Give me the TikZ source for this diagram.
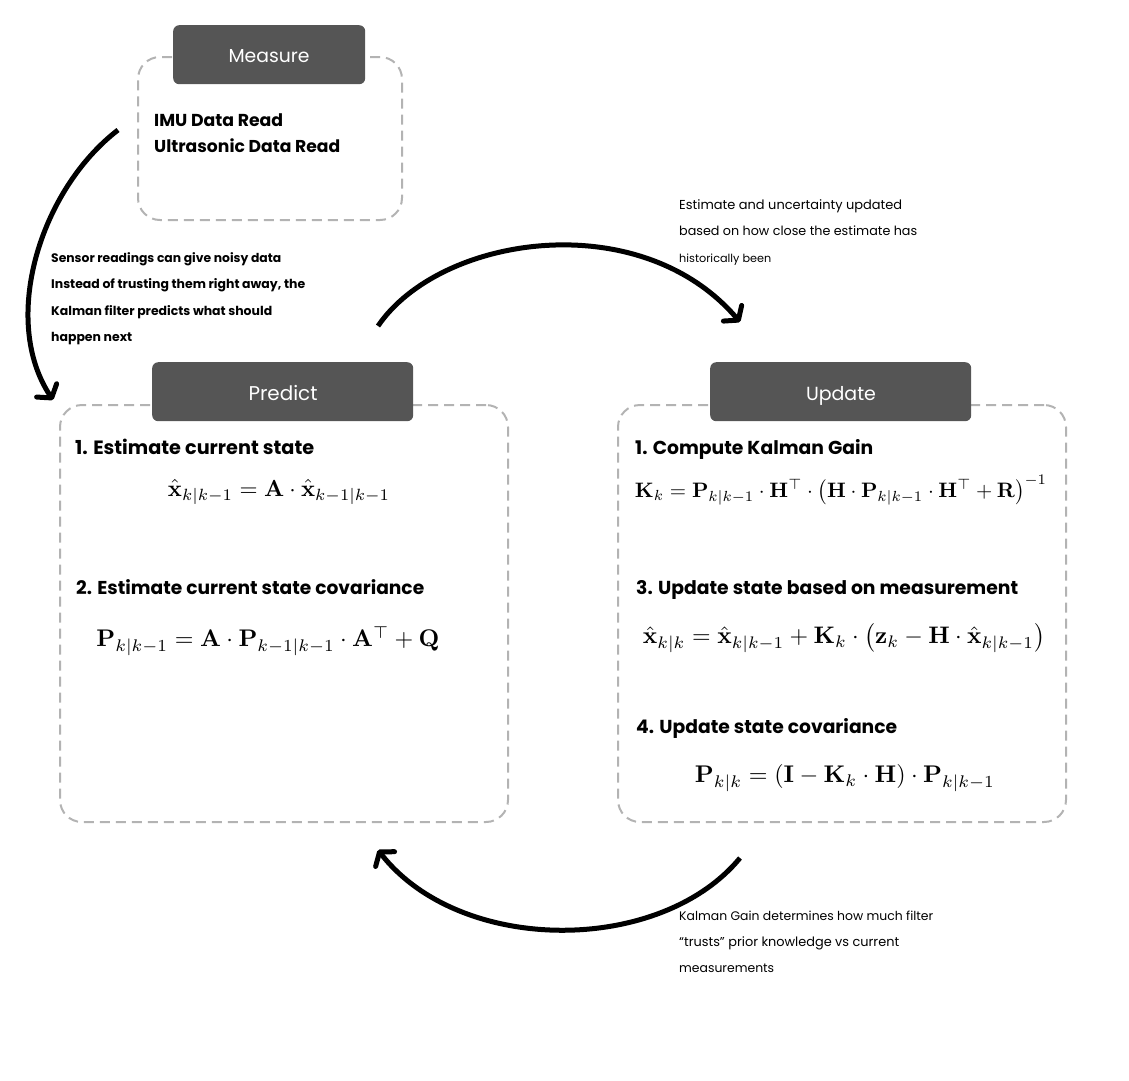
\documentclass[tikz,border=0pt]{standalone}
\usepackage{amsmath}
\usepackage[no-math]{fontspec}
\setmainfont{Poppins}
\usepackage{graphicx}
\usetikzlibrary{arrows.meta}
\definecolor{hdr}{HTML}{555555}
\definecolor{dashc}{HTML}{B3B3B3}
\newcommand{\fitw}[2]{\resizebox{#1pt}{!}{#2}}
\begin{document}
\begin{tikzpicture}[x=1pt,y=-1pt,
  dbox/.style={draw=dashc, line width=2pt, dash pattern=on 10pt off 6pt, rounded corners=22pt, inner sep=0pt, anchor=north west},
  hbox/.style={fill=hdr, rounded corners=6pt, inner sep=0pt, anchor=north west},
  htext/.style={text=white, inner sep=0pt, anchor=base},
  lbl/.style={inner sep=0pt, anchor=base west, text=black},
  eq/.style={inner sep=0pt, anchor=center},
  flow/.style={line width=5pt, line join=round, -{Straight Barb[length=9pt,width=24pt,round]}}]
\useasboundingbox (0,0) rectangle (1129,1080);

% Measure
\node[dbox, minimum width=264pt, minimum height=163pt] (measbox) at (137,56) {};
\node[hbox, minimum width=192pt, minimum height=59pt] (meashdr) at (173,25) {};
\node[htext] (meast) at (269,62) {\fitw{81}{Measure}};
\node[lbl] (imu) at (154,126) {\fitw{129}{\bfseries IMU Data Read}};
\node[lbl] (ultra) at (154,152) {\fitw{186}{\bfseries Ultrasonic Data Read}};

% Predict
\node[dbox, minimum width=448pt, minimum height=417pt] (predbox) at (59,404) {};
\node[hbox, minimum width=261pt, minimum height=59pt] (predhdr) at (152,362) {};
\node[htext] (predt) at (283,400) {\fitw{69}{Predict}};
\node[lbl] (p1) at (75,454) {\fitw{239}{\bfseries 1. Estimate current state}};
\node[eq] (pe1) at (279,492) {\fitw{222}{$\hat{\mathbf{x}}_{k|k-1} = \mathbf{A}\cdot\hat{\mathbf{x}}_{k-1|k-1}$}};
\node[lbl] (p2) at (76,594) {\fitw{348}{\bfseries 2. Estimate current state covariance}};
\node[eq] (pe2) at (268,641) {\fitw{343}{$\mathbf{P}_{k|k-1} = \mathbf{A}\cdot\mathbf{P}_{k-1|k-1}\cdot\mathbf{A}^{\top} + \mathbf{Q}$}};

% Update
\node[dbox, minimum width=448pt, minimum height=417pt] (updbox) at (617,404) {};
\node[hbox, minimum width=261pt, minimum height=59pt] (updhdr) at (710,362) {};
\node[htext] (updt) at (841,400) {\fitw{70}{Update}};
\node[lbl] (u1) at (635,454) {\fitw{238}{\bfseries 1. Compute Kalman Gain}};
\node[eq] (ue1) at (841,490) {\fitw{412}{$\mathbf{K}_k = \mathbf{P}_{k|k-1}\cdot\mathbf{H}^{\top}\cdot\bigl(\mathbf{H}\cdot\mathbf{P}_{k|k-1}\cdot\mathbf{H}^{\top}+\mathbf{R}\bigr)^{-1}$}};
\node[lbl] (u3) at (636,594) {\fitw{382}{\bfseries 3. Update state based on measurement}};
\node[eq] (ue3) at (844,638) {\fitw{402}{$\hat{\mathbf{x}}_{k|k} = \hat{\mathbf{x}}_{k|k-1} + \mathbf{K}_k\cdot\bigl(\mathbf{z}_k - \mathbf{H}\cdot\hat{\mathbf{x}}_{k|k-1}\bigr)$}};
\node[lbl] (u4) at (636,733) {\fitw{261}{\bfseries 4. Update state covariance}};
\node[eq] (ue4) at (845,778) {\fitw{300}{$\mathbf{P}_{k|k} = (\mathbf{I} - \mathbf{K}_k\cdot\mathbf{H})\cdot\mathbf{P}_{k|k-1}$}};

% Notes
\node[lbl] (n1a) at (51,262) {\fitw{230}{\bfseries Sensor readings can give noisy data}};
\node[lbl] (n1b) at (51,288) {\fitw{254}{\bfseries Instead of trusting them right away, the}};
\node[lbl] (n1c) at (51,315) {\fitw{221}{\bfseries Kalman filter predicts what should}};
\node[lbl] (n1d) at (51,341) {\fitw{81}{\bfseries happen next}};

\node[lbl] (n2a) at (679,209) {\fitw{223}{Estimate and uncertainty updated}};
\node[lbl] (n2b) at (679,235) {\fitw{238}{based on how close the estimate has}};
\node[lbl] (n2c) at (679,262) {\fitw{92}{historically been}};

\node[lbl] (n3a) at (679,920) {\fitw{254}{Kalman Gain determines how much filter}};
\node[lbl] (n3b) at (679,946) {\fitw{220}{“trusts” prior knowledge vs current}};
\node[lbl] (n3c) at (679,972) {\fitw{95}{measurements}};

% Arrows
\coordinate (a1s) at (118,130);
\coordinate (a1e) at (53,400);
\coordinate (a2s) at (378,326);
\coordinate (a2e) at (740,322);
\coordinate (a3s) at (740,858);
\coordinate (a3e) at (378,850);
\draw[flow] (a1s) .. controls (40,190) and (0,320) .. (a1e);
\draw[flow] (a2s) .. controls (440,235) and (640,205) .. (a2e);
\draw[flow] (a3s) .. controls (660,955) and (460,955) .. (a3e);
\end{tikzpicture}
\end{document}
